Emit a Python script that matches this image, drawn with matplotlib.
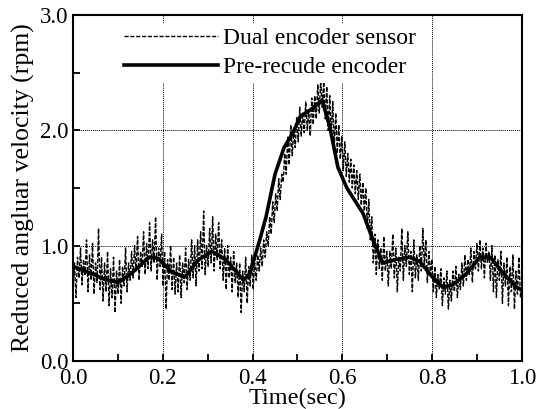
import numpy as np
import matplotlib.pyplot as plt
from matplotlib.ticker import MultipleLocator

# thick smooth curve: (time, velocity)
pre_t = [0.0, 0.04, 0.07, 0.10, 0.13, 0.17, 0.19, 0.22, 0.25, 0.28, 0.31, 0.34,
         0.36, 0.38, 0.394, 0.416, 0.43, 0.45, 0.47, 0.49, 0.506, 0.53, 0.543,
         0.555, 0.572, 0.59, 0.61, 0.646, 0.668, 0.69, 0.72, 0.75, 0.773, 0.80,
         0.824, 0.846, 0.877, 0.906, 0.93, 0.958, 0.988, 1.0]
pre_v = [0.82, 0.76, 0.71, 0.68, 0.76, 0.90, 0.89, 0.77, 0.73, 0.88, 0.95, 0.88,
         0.79, 0.70, 0.76, 1.05, 1.25, 1.62, 1.85, 1.98, 2.12, 2.18, 2.22,
         2.26, 2.03, 1.68, 1.50, 1.28, 1.05, 0.85, 0.88, 0.90, 0.86, 0.73,
         0.64, 0.66, 0.76, 0.90, 0.90, 0.76, 0.64, 0.62]

# noisy dual encoder signal, 300 samples over 0..1 s
dual_v = [
    0.62, 0.85, 0.55, 0.90, 0.72, 0.98, 0.66, 0.88, 0.75, 1.05,
    0.60, 0.92, 0.70, 1.02, 0.58, 0.85, 0.68, 1.15, 0.62, 0.90,
    0.52, 0.85, 0.60, 0.95, 0.48, 0.80, 0.55, 0.90, 0.42, 0.78,
    0.58, 0.88, 0.50, 0.82, 0.65, 0.98, 0.60, 0.85, 0.70, 0.95,
    0.72, 1.00, 0.78, 1.08, 0.70, 0.95, 0.82, 1.12, 0.75, 1.02,
    0.80, 1.20, 0.78, 1.05, 0.85, 1.25, 0.70, 0.98, 0.82, 1.10,
    0.65, 0.95, 0.45, 0.88, 0.70, 1.00, 0.62, 0.90, 0.58, 0.85,
    0.60, 0.92, 0.55, 0.85, 0.68, 0.98, 0.62, 0.88, 0.70, 1.05,
    0.72, 1.00, 0.65, 1.05, 0.78, 1.12, 0.80, 1.30, 0.75, 1.00,
    0.82, 1.15, 0.85, 1.25, 0.78, 1.10, 0.88, 1.20, 0.80, 1.05,
    0.70, 0.98, 0.62, 1.00, 0.72, 0.90, 0.60, 0.95, 0.68, 0.85,
    0.55, 0.85, 0.42, 0.78, 0.60, 0.90, 0.50, 0.82, 0.65, 0.92,
    0.62, 0.85, 0.70, 0.92, 0.78, 0.98, 0.82, 1.05, 0.90, 1.12,
    1.00, 1.25, 1.10, 1.38, 1.20, 1.45, 1.30, 1.58, 1.40, 1.62,
    1.55, 1.80, 1.62, 1.95, 1.70, 2.05, 1.78, 2.00, 1.85, 2.12,
    1.90, 2.20, 1.95, 2.15, 1.98, 2.25, 2.00, 2.18, 1.95, 2.28,
    2.05, 2.30, 2.10, 2.40, 2.15, 2.45, 2.20, 2.42, 2.10, 2.38,
    2.00, 2.30, 1.95, 2.25, 1.85, 2.15, 1.80, 2.05, 1.75, 1.95,
    1.65, 1.90, 1.60, 1.80, 1.55, 1.75, 1.50, 1.70, 1.45, 1.65,
    1.40, 1.62, 1.35, 1.55, 1.30, 1.50, 1.15, 1.40, 1.05, 1.25,
    0.85, 1.10, 0.75, 1.05, 0.80, 0.98, 0.70, 1.08, 0.78, 0.95,
    0.65, 0.95, 0.80, 1.10, 0.72, 0.98, 0.60, 0.90, 0.78, 1.15,
    0.70, 1.00, 0.82, 1.12, 0.75, 0.95, 0.60, 1.05, 0.72, 0.92,
    0.70, 1.00, 0.78, 1.15, 0.82, 1.05, 0.68, 0.95, 0.75, 0.88,
    0.60, 0.82, 0.55, 0.75, 0.62, 0.80, 0.48, 0.72, 0.58, 0.78,
    0.45, 0.70, 0.52, 0.78, 0.60, 0.82, 0.55, 0.75, 0.62, 0.85,
    0.65, 0.92, 0.70, 0.88, 0.75, 0.98, 0.68, 0.95, 0.80, 1.02,
    0.78, 1.05, 0.80, 0.98, 0.72, 1.02, 0.85, 0.95, 0.70, 1.00,
    0.60, 0.92, 0.55, 0.88, 0.70, 0.95, 0.50, 0.85, 0.65, 0.90,
    0.48, 0.82, 0.60, 0.92, 0.45, 0.78, 0.58, 0.90, 0.55, 0.65,
]
dual_t = np.linspace(0, 1, len(dual_v))

plt.rcParams['font.family'] = ['Liberation Serif', 'DejaVu Serif']

fig = plt.figure(figsize=(5.42, 4.09), dpi=100)
ax = fig.add_axes([0.1347, 0.1174, 0.8283, 0.8459])

ax.plot(dual_t, dual_v, color='black', lw=1.0, ls=(0, (3, 1.2)),
        label='Dual encoder sensor')
ax.plot(pre_t, pre_v, color='black', lw=2.6, label='Pre-recude encoder')

ax.set_xlim(0, 1.0)
ax.set_ylim(0, 3.0)
ax.xaxis.set_major_locator(MultipleLocator(0.2))
ax.xaxis.set_minor_locator(MultipleLocator(0.1))
ax.yaxis.set_major_locator(MultipleLocator(1.0))
ax.yaxis.set_minor_locator(MultipleLocator(0.5))
ax.xaxis.set_major_formatter(lambda v, p: f"{v:.1f}")
ax.yaxis.set_major_formatter(lambda v, p: f"{v:.1f}")
ax.tick_params(which='both', direction='in', labelsize=16.5, width=1.3, length=5)
ax.tick_params(axis='x', pad=5)
ax.grid(True, which='major', color='black', lw=0.7, ls=(0, (1, 1)))
for s in ax.spines.values():
    s.set_linewidth(1.5)

ax.set_xlabel('Time(sec)', fontsize=17.5, labelpad=-1)
ax.set_ylabel('Reduced angluar velocity (rpm)', fontsize=18.5, labelpad=3)

leg = ax.legend(loc='upper left', bbox_to_anchor=(0.092, 0.99), fontsize=17,
                handlelength=4.0, handletextpad=0.2, labelspacing=0.3,
                borderpad=0.2, borderaxespad=0.2, frameon=True, fancybox=False)
leg.get_frame().set_edgecolor('none')
leg.get_frame().set_facecolor('white')
leg.get_frame().set_alpha(1)

fig.savefig('out.png', dpi=100)
